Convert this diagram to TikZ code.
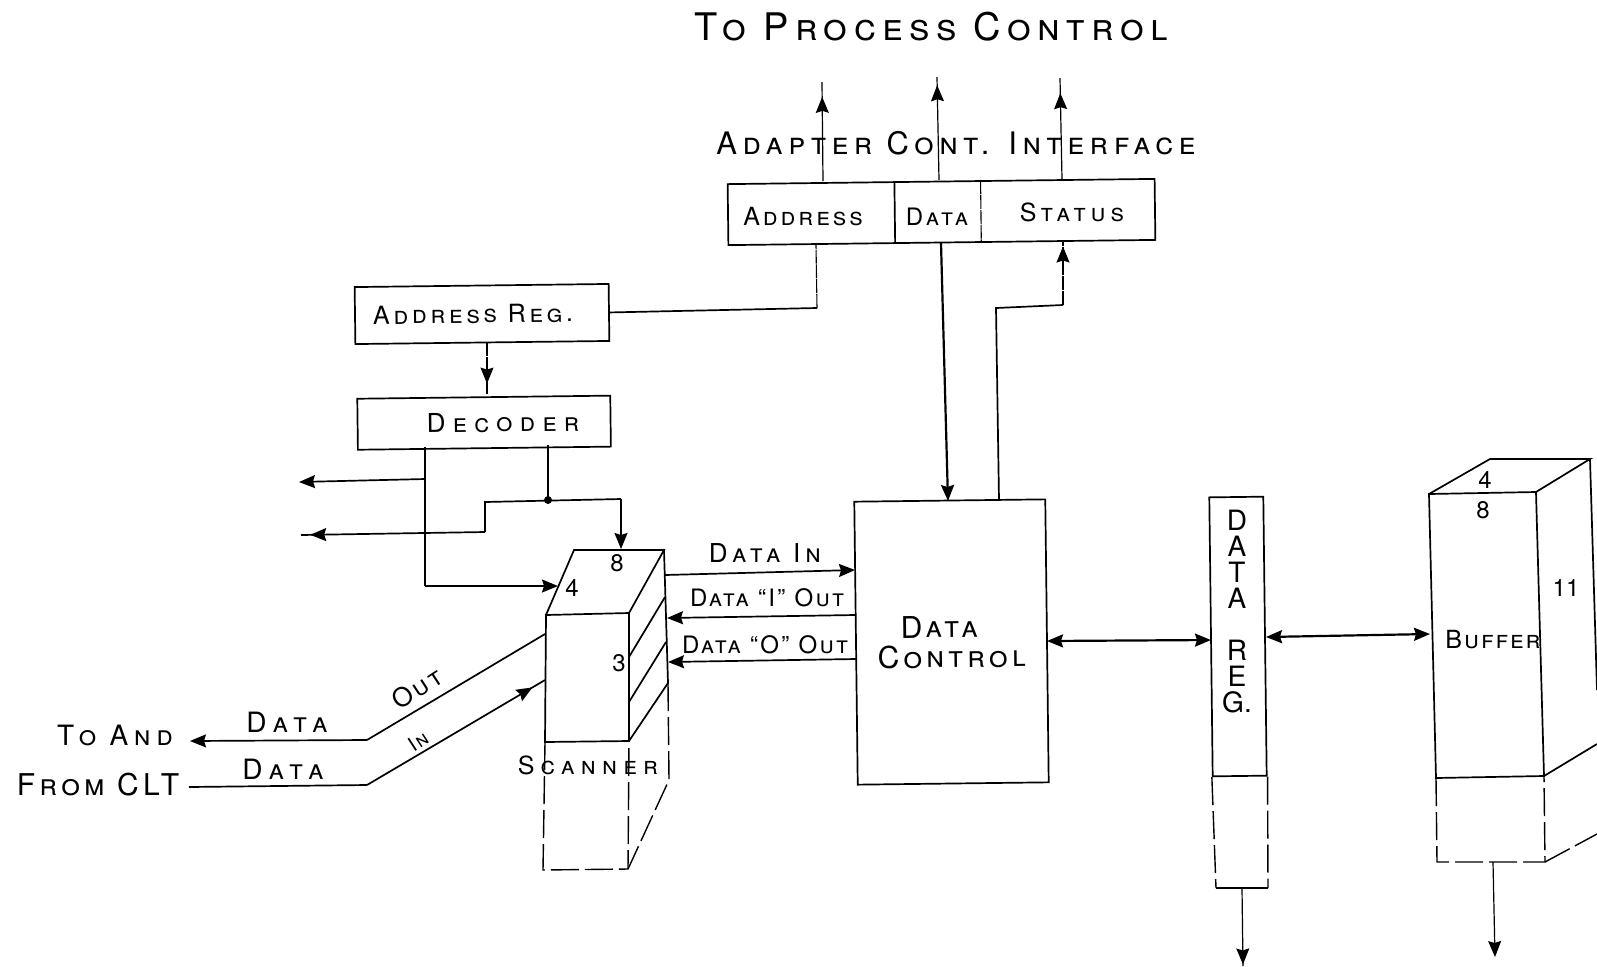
\documentclass[tikz,border=0pt]{standalone}
\usepackage{fontspec}
\setmainfont{TeX Gyre Heros}
\usetikzlibrary{positioning,calc,arrows.meta,decorations.markings}
\newcommand{\lettering}[2]{\fontsize{#1}{15}\selectfont\scshape\addfontfeatures{LetterSpace=#2}}
\tikzset{  block/.style={draw,rotate=0.7,inner sep=0pt,align=center} }
\tikzset{  lbl/.style={inner sep=0pt,align=center} }
\tikzset{  num/.style={inner sep=0pt,font=\fontsize{12}{13}\selectfont} }
\tikzset{  wire/.style={line width=0.55pt,dash pattern=on 7pt off 0.4pt} }
\tikzset{  hidden/.style={line width=0.7pt,dash pattern=on 14pt off 3pt} }
\tikzset{  midarrow/.style={postaction={decorate,decoration={markings,mark=at position #1 with {\arrow{Stealth[length=8pt,width=6.5pt,inset=1pt]}}}}} }

\begin{document}
\begin{tikzpicture}[x=0.5pt,y=-0.5pt,line width=0.85pt,>={Stealth[length=8pt,width=6.5pt,inset=1pt]}]
   \useasboundingbox (0,0) rectangle (1597,966);
   \node[lbl,font=\lettering{19}{17}] (title) at (931,27) {To Process Control};
   \node[lbl,font=\lettering{15.5}{18}] (iface) at (956,143) {Adapter Cont. Interface};
   \node[block,minimum width=213.5pt,minimum height=30.5pt] (adapter) at (941.5,212) {};
   \node[lbl,font=\lettering{12.5}{12}] (addrtxt) at (803,217) {Address};
   \node[lbl,font=\lettering{12}{15}] (datatxt) at (937,217) {Data};
   \node[lbl,font=\lettering{12.5}{20}] (stattxt) at (1072,212) {Status};
   \node[block,minimum width=127pt,minimum height=28.5pt,font=\lettering{12.5}{15}] (addrreg) at (482,314) {Address Reg.\hspace*{9pt}};
   \node[block,minimum width=126.5pt,minimum height=25.5pt,below=26.5pt of addrreg,xshift=0.7pt,font=\lettering{13}{28}] (decoder) {\hspace*{19pt}Decoder};
   \node[block,minimum width=95.5pt,minimum height=141.5pt,font=\lettering{15}{14}] (datactl) at (951.5,642) {Data\hspace*{12pt}\\Control};
   \node[block,minimum width=27pt,minimum height=139.5pt] (datareg) at (1238,636.5) {};
   \node[lbl,font=\fontsize{14}{13}\selectfont] (regtxt) at (1237,612) {D\\A\\T\\A\\[13pt]R\\E\\G.};

   \coordinate (sa) at (546,615);
   \coordinate (sb) at (629,613);
   \coordinate (sc) at (629,741);
   \coordinate (sd) at (545,742);
   \coordinate (se) at (574,550);
   \coordinate (sf) at (664,550);
   \coordinate (sg) at (668,683);
   \draw (sa) -- (sb) -- (sc) -- (sd) -- cycle;
   \draw (sa) -- (se) -- (sf) -- (sb);
   \draw (sf) -- (sg) -- (sc);
   \draw (629,657) -- (665,597);
   \draw (629,702) -- (666,642);
   \coordinate (sdd) at (543,870);
   \coordinate (scc) at (628,869);
   \coordinate (sgg) at (669,780);
   \draw[hidden] (sd) -- (sdd) -- (scc) -- (sc);
   \draw[hidden] (sg) -- (sgg) -- (scc);
   \node[num] (s8) at (617,563) {8};
   \node[num] (s4) at (572,588) {4};
   \node[num] (s3) at (619,663) {3};
   \node[lbl,font=\lettering{12.5}{25}] (scantxt) at (588,765) {Scanner};

   \coordinate (ba) at (1429,494);
   \coordinate (bb) at (1536,492);
   \coordinate (bc) at (1544,776);
   \coordinate (bd) at (1436,778);
   \coordinate (be) at (1490,459);
   \coordinate (bf) at (1590,459);
   \draw (ba) -- (bb) -- (bc) -- (bd) -- cycle;
   \draw (ba) -- (be) -- (bf) -- (bb);
   \draw (bf) -- (1597,690);
   \draw (bc) -- (1597,744);
   \coordinate (bdd) at (1437,862);
   \coordinate (bcc) at (1545,862);
   \draw[hidden] (bd) -- (bdd) -- (bcc) -- (bc);
   \draw[hidden] (bcc) -- (1597,834);
   \node[num] (b4) at (1485,480) {4};
   \node[num] (b8) at (1483,510) {8};
   \node[num] (b11) at (1566,588) {11};
   \node[lbl,font=\lettering{12.5}{8}] (buftxt) at (1493,640) {Buffer};

   \coordinate (rl) at (1216,888);
   \coordinate (rr) at (1268,888);
   \draw[hidden] (datareg.south west) -- (rl);
   \draw[hidden] (datareg.south east) -- (rr);
   \draw[line width=0.55pt] (rl) -- (rr);

   \draw ($(adapter.north west)!0.391!(adapter.north east)$) -- ($(adapter.south west)!0.391!(adapter.south east)$);
   \draw[wire] ($(adapter.north west)!0.592!(adapter.north east)$) -- ($(adapter.south west)!0.592!(adapter.south east)$);

   \draw[line width=0.6pt,midarrow=0.85] (823,181) -- (822,82);
   \draw[line width=0.6pt,midarrow=0.92] (939,180) -- (937,77);
   \draw[line width=0.6pt,midarrow=0.85] (1062,179) -- (1060,78);

   \draw[wire,midarrow=0.8] (487,342) -- (487,394);
   \draw (addrreg.east) -- (817,308);
   \draw[wire] (817,308) -- (816,245);
   \draw[->,line width=1.1pt] (941,243) -- (948,501);
   \draw (999,500) -- (996,308) -- (1063,305);
   \draw[wire,midarrow=0.9] (1063,305) -- (1063,240);

   \coordinate (d1) at (425,447);
   \coordinate (d2) at (548,445);
   \coordinate (dj) at (548,500);
   \draw (d1) -- (425,586);
   \draw[->] (425,586) -- (558,586);
   \draw[->] (425,479) -- (299,482);
   \draw[midarrow=0.95] (485,532) -- (301,535);
   \draw (d2) -- (dj);
   \fill (dj) circle (2pt);
   \draw (485,532) -- (485,502) -- (621,499);
   \draw[->] (621,499) -- (621,549);

   \draw[->] (665,575) -- (855,570);
   \draw[->] (855,615) -- (667,618);
   \draw[->] (856,659) -- (668,662);
   \node[lbl,font=\lettering{13}{20}] (datain) at (765,553) {Data In};
   \node[lbl,font=\lettering{12}{10}] (dataone) at (767,598) {Data ``I'' Out};
   \node[lbl,font=\lettering{12}{10}] (datazero) at (765,645) {Data ``O'' Out};

   \draw[<->,line width=1.1pt] (1047,641) -- (1211,640);
   \draw[<->,line width=1.1pt] (1266,637) -- (1430,634);
   \draw[line width=0.6pt,midarrow=0.98] (1242,888) -- (1243,966);
   \draw[line width=0.6pt,->] (1493,862) -- (1495,957);

   \coordinate (outb) at (367,740);
   \coordinate (inb) at (367,785);
   \draw (545,634) -- (outb);
   \draw[->] (outb) -- (190,741);
   \draw (189,787) -- (inb);
   \draw[midarrow=0.93] (inb) -- (545,680);
   \node[lbl,font=\lettering{14}{20}] (toand) at (115,735) {To And};
   \node[lbl,font=\lettering{15}{14}] (fromclt) at (98,785) {From CLT};
   \node[lbl,font=\lettering{14}{25}] (dataup) at (287,722) {Data};
   \node[lbl,font=\lettering{14}{25}] (datalow) at (283,769) {Data};
   \node[lbl,rotate=33,font=\lettering{13}{10}] (outtxt) at (417,688) {Out};
   \node[lbl,rotate=33,font=\lettering{10}{10}] (intxt) at (418,741) {In};
\end{tikzpicture}
\end{document}
